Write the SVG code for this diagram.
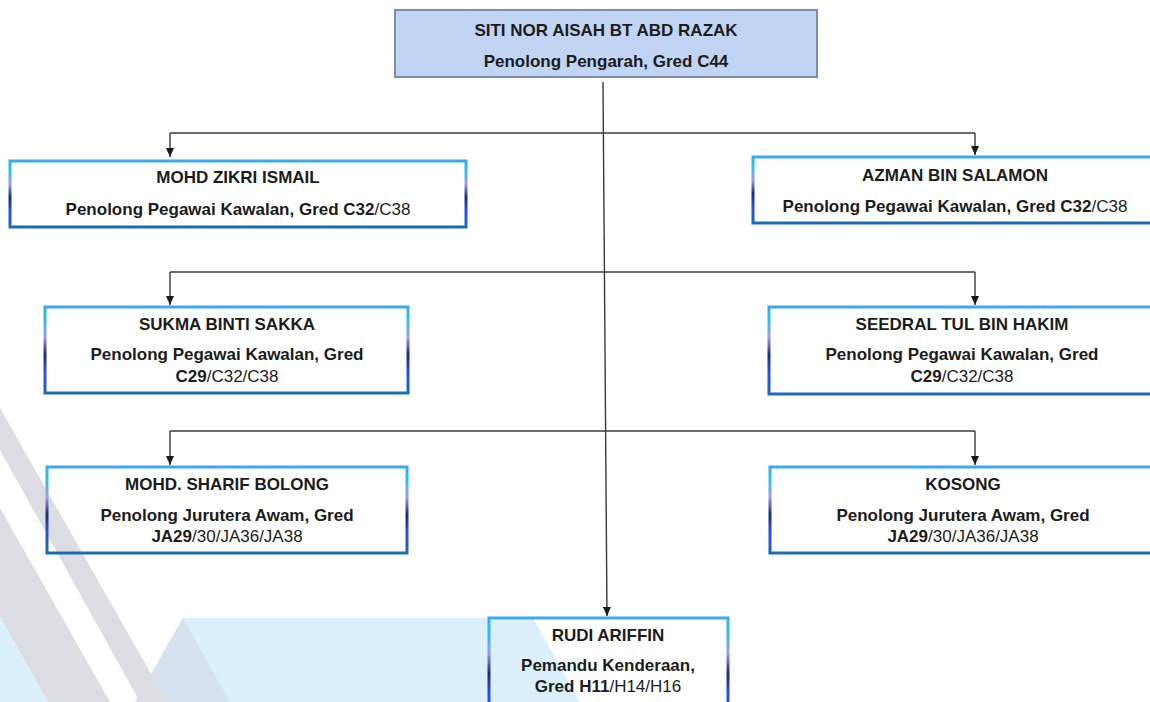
<svg xmlns="http://www.w3.org/2000/svg" width="1150" height="702" viewBox="0 0 1150 702">
<defs>
<style>
.t{font-family:"Liberation Sans",Arial,Helvetica,sans-serif;font-size:17px;font-weight:bold;fill:#1c1c1c;text-anchor:middle}
.r{font-weight:normal}
.box{fill:none;stroke:url(#bd);stroke-width:3}
.top{fill:#C2D4F4;stroke:#7D8CA8;stroke-width:2}
.ln{fill:none;stroke:#3a3a3a;stroke-width:1.4}
</style>
<linearGradient id="bd" x1="0" y1="0" x2="0" y2="1">
<stop offset="0" stop-color="#3DA7F0"/>
<stop offset="0.12" stop-color="#22C4E2"/>
<stop offset="0.35" stop-color="#9C9CF6"/>
<stop offset="0.55" stop-color="#1B2F6A"/>
<stop offset="0.75" stop-color="#2B4DE6"/>
<stop offset="1" stop-color="#1C6BB0"/>
</linearGradient>
<marker id="ar" markerUnits="userSpaceOnUse" markerWidth="9" markerHeight="8" refX="9" refY="4" orient="auto">
<path d="M0,0 L9,4 L0,8 z" fill="#1a1a1a"/>
</marker>
</defs>
<rect width="1150" height="702" fill="#ffffff"/>
<g id="background">
<polygon points="183,618 533,618 580,702 135,702" fill="#DCEFFC"/>
<polygon points="183,618 230,702 135,702" fill="#D6E2EF"/>
<polygon points="0,408 167,702 140,702 0,450" fill="#DCDEE3"/>
<polygon points="0,508 110,702 48,702 0,617" fill="#DCDEE3"/>
<polygon points="0,617 48,702 0,702" fill="#DCEFFC"/>
</g>
<g id="connectors">
<path class="ln" d="M603,82 L607,616" stroke-width="1.8" stroke="#555" marker-end="url(#ar)"/>
<path class="ln" d="M170,133 H975"/>
<path class="ln" d="M170,133 V157" marker-end="url(#ar)"/>
<path class="ln" d="M975,133 V155" marker-end="url(#ar)"/>
<path class="ln" d="M170,272 H975"/>
<path class="ln" d="M170,272 V305" marker-end="url(#ar)"/>
<path class="ln" d="M975,272 V305" marker-end="url(#ar)"/>
<path class="ln" d="M170,431 H975"/>
<path class="ln" d="M170,431 V465" marker-end="url(#ar)"/>
<path class="ln" d="M975,431 V465" marker-end="url(#ar)"/>
</g>
<g id="n-siti">
<rect class="top" x="395" y="10" width="422" height="67"/>
<text class="t" x="606" y="36">SITI NOR AISAH BT ABD RAZAK</text>
<text class="t" x="606" y="67">Penolong Pengarah, Gred C44</text>
</g>
<g id="n-zikri">
<rect class="box" x="10" y="161" width="456" height="66"/>
<text class="t" x="238" y="183">MOHD ZIKRI ISMAIL</text>
<text class="t" x="238" y="215">Penolong Pegawai Kawalan, Gred C32<tspan class="r">/C38</tspan></text>
</g>
<g id="n-azman">
<rect class="box" x="753" y="157" width="404" height="66"/>
<text class="t" x="955" y="181">AZMAN BIN SALAMON</text>
<text class="t" x="955" y="212">Penolong Pegawai Kawalan, Gred C32<tspan class="r">/C38</tspan></text>
</g>
<g id="n-sukma">
<rect class="box" x="45" y="307" width="363" height="86"/>
<text class="t" x="227" y="330">SUKMA BINTI SAKKA</text>
<text class="t" x="227" y="360">Penolong Pegawai Kawalan, Gred</text>
<text class="t" x="227" y="382">C29<tspan class="r">/C32/C38</tspan></text>
</g>
<g id="n-seedral">
<rect class="box" x="769" y="307" width="388" height="87"/>
<text class="t" x="962" y="330">SEEDRAL TUL BIN HAKIM</text>
<text class="t" x="962" y="360">Penolong Pegawai Kawalan, Gred</text>
<text class="t" x="962" y="382">C29<tspan class="r">/C32/C38</tspan></text>
</g>
<g id="n-sharif">
<rect class="box" x="47" y="467" width="360" height="86"/>
<text class="t" x="227" y="490">MOHD. SHARIF BOLONG</text>
<text class="t" x="227" y="521">Penolong Jurutera Awam, Gred</text>
<text class="t" x="227" y="542">JA29<tspan class="r">/30/JA36/JA38</tspan></text>
</g>
<g id="n-kosong">
<rect class="box" x="770" y="467" width="387" height="86"/>
<text class="t" x="963" y="490">KOSONG</text>
<text class="t" x="963" y="521">Penolong Jurutera Awam, Gred</text>
<text class="t" x="963" y="542">JA29<tspan class="r">/30/JA36/JA38</tspan></text>
</g>
<g id="n-rudi">
<rect class="box" x="489" y="618" width="239" height="100"/>
<text class="t" x="608" y="641">RUDI ARIFFIN</text>
<text class="t" x="608" y="671">Pemandu Kenderaan,</text>
<text class="t" x="608" y="692">Gred H11<tspan class="r">/H14/H16</tspan></text>
</g>
</svg>
